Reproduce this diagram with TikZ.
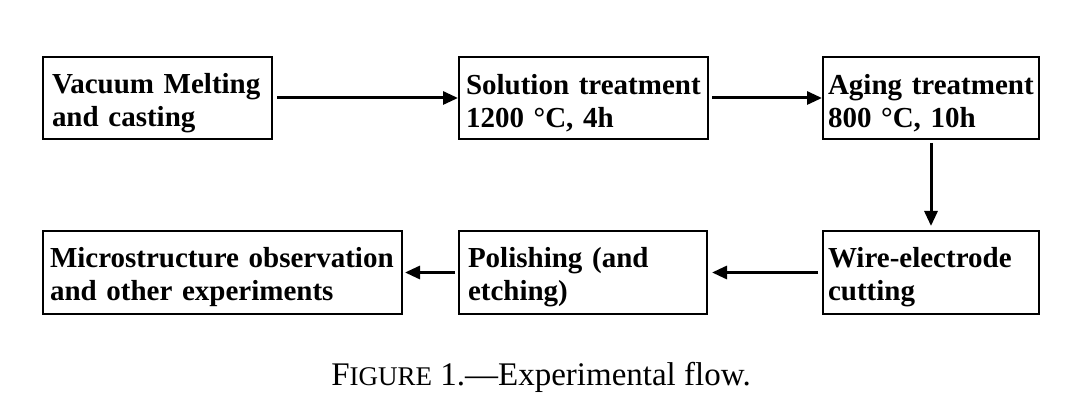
\documentclass[tikz,border=0pt]{standalone}
\usepackage{fontspec}
\setmainfont{Liberation Serif}
\usetikzlibrary{positioning,arrows.meta}
\hyphenpenalty=10000
\exhyphenpenalty=10000

\begin{document}
\begin{tikzpicture}[
	x=1pt,y=-1pt,
	>={Triangle[length=15pt,width=13pt]},
	line join=miter,
	font=\fontsize{29}{33}\selectfont,
	stage/.style={draw, line width=1.8pt, outer sep=0pt, anchor=north west,
		align=left, minimum height=82pt, font=\fontsize{29}{33}\selectfont\bfseries,
		execute at begin node=\rule{0pt}{30pt}},
	flow/.style={->, line width=3pt}
	]
	%----- parameters
	\def\rowA{57}
	\def\rowB{231}
	\def\colA{43}
	\def\colB{459}
	\def\colC{823}
	
	% page frame
	\useasboundingbox (0,0) rectangle (1072,414);
	
	%----- top row
	\node[stage, inner xsep=9pt, text width=211pt] (melt) at (\colA,\rowA)
	{Vacuum~Melting\\and~casting};
	\node[stage, inner xsep=7pt, text width=235pt] (solution) at (\colB,\rowA)
	{Solution~treatment\\1200~°C,~4h};
	\node[stage, inner xsep=5pt, text width=206pt] (aging) at (\colC,\rowA)
	{Aging~treatment\\800~°C,~10h};
	
	%----- bottom row
	\node[stage, inner xsep=7pt, text width=345pt, minimum height=83pt] (observe) at (\colA,\rowB)
	{Microstructure~observation\\and~other~experiments};
	\node[stage, inner xsep=9pt, text width=230pt, minimum height=83pt] (polish) at (\colB,\rowB)
	{Polishing~(and\\etching)};
	\node[stage, inner xsep=5pt, text width=206pt, minimum height=83pt] (cutting) at (\colC,\rowB)
	{Wire-electrode\\cutting};
	
	%----- arrows
	\draw[flow, shorten <=5pt, shorten >=1pt] (melt) -- (solution);
	\draw[flow, shorten <=4pt, shorten >=1pt] (solution) -- (aging);
	\draw[flow, shorten <=4pt, shorten >=5pt] (aging) -- (cutting);
	\draw[flow, shorten <=5pt, shorten >=5pt] (cutting) -- (polish);
	\draw[flow, shorten <=4pt, shorten >=3pt] (polish) -- (observe);
	
	%----- caption
	\node[anchor=base, font=\fontsize{33}{33}\selectfont] (caption) at (541,385)
	{F{\fontsize{27}{27}\selectfont IGURE} 1.---Experimental flow.};
	
\end{tikzpicture}
\end{document}
